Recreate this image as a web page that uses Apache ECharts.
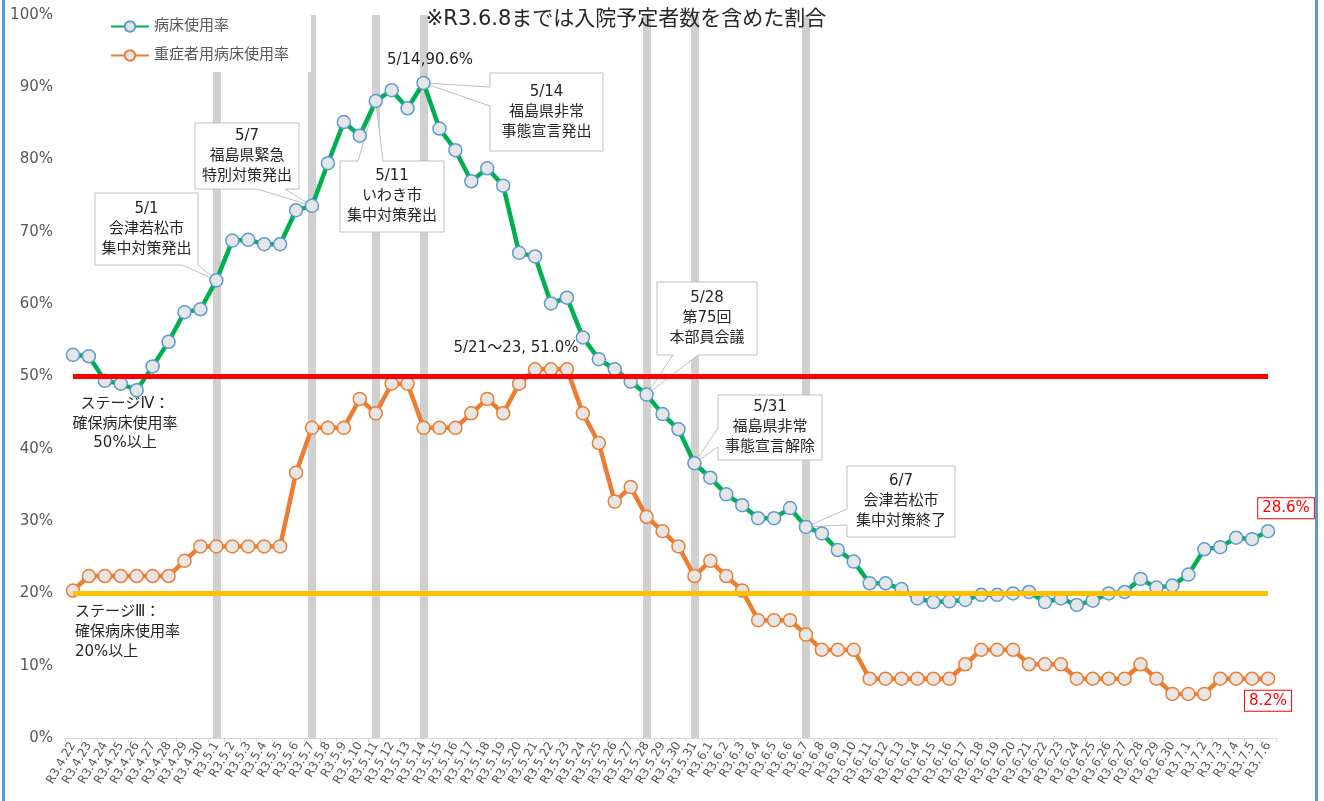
<!DOCTYPE html>
<html>
<head>
<meta charset="utf-8">
<script src="https://cdn.jsdelivr.net/npm/echarts@6/dist/echarts.min.js"></script>
<style>
html,body{margin:0;padding:0;background:#fff;}
#chart{width:1324px;height:801px;}
</style>
</head>
<body>
<div id="chart"></div>
<script>
// 日付（x軸）
var dates = [
  'R3.4.22','R3.4.23','R3.4.24','R3.4.25','R3.4.26','R3.4.27','R3.4.28','R3.4.29','R3.4.30',
  'R3.5.1','R3.5.2','R3.5.3','R3.5.4','R3.5.5','R3.5.6','R3.5.7','R3.5.8','R3.5.9','R3.5.10',
  'R3.5.11','R3.5.12','R3.5.13','R3.5.14','R3.5.15','R3.5.16','R3.5.17','R3.5.18','R3.5.19','R3.5.20',
  'R3.5.21','R3.5.22','R3.5.23','R3.5.24','R3.5.25','R3.5.26','R3.5.27','R3.5.28','R3.5.29','R3.5.30','R3.5.31',
  'R3.6.1','R3.6.2','R3.6.3','R3.6.4','R3.6.5','R3.6.6','R3.6.7','R3.6.8','R3.6.9','R3.6.10',
  'R3.6.11','R3.6.12','R3.6.13','R3.6.14','R3.6.15','R3.6.16','R3.6.17','R3.6.18','R3.6.19','R3.6.20',
  'R3.6.21','R3.6.22','R3.6.23','R3.6.24','R3.6.25','R3.6.26','R3.6.27','R3.6.28','R3.6.29','R3.6.30',
  'R3.7.1','R3.7.2','R3.7.3','R3.7.4','R3.7.5','R3.7.6'
];
// 病床使用率 (%)
var bedRate = [
  53.0, 52.8, 49.4, 49.0, 48.1, 51.4, 54.8, 58.9, 59.3,
  63.3, 68.8, 68.9, 68.3, 68.3, 73.0, 73.6, 79.5, 85.2, 83.3,
  88.1, 89.6, 87.1, 90.6, 84.3, 81.3, 77.0, 78.8, 76.4, 67.1,
  66.6, 60.1, 60.9, 55.4, 52.4, 51.0, 49.3, 47.5, 44.8, 42.7, 38.0,
  36.0, 33.7, 32.2, 30.4, 30.4, 31.8, 29.2, 28.3, 26.0, 24.4,
  21.4, 21.4, 20.6, 19.3, 18.8, 18.9, 19.1, 19.8, 19.8, 20.0,
  20.2, 18.8, 19.3, 18.4, 19.0, 20.0, 20.2, 22.0, 20.8, 21.1,
  22.6, 26.1, 26.4, 27.7, 27.5, 28.6
];
// 重症者用病床使用率 (%)
var severeRate = [
  20.4, 22.4, 22.4, 22.4, 22.4, 22.4, 22.4, 24.5, 26.5,
  26.5, 26.5, 26.5, 26.5, 26.5, 36.7, 42.9, 42.9, 42.9, 46.9,
  44.9, 49.0, 49.0, 42.9, 42.9, 42.9, 44.9, 46.9, 44.9, 49.0,
  51.0, 51.0, 51.0, 44.9, 40.8, 32.7, 34.7, 30.6, 28.6, 26.5, 22.4,
  24.5, 22.4, 20.4, 16.3, 16.3, 16.3, 14.3, 12.2, 12.2, 12.2,
  8.2, 8.2, 8.2, 8.2, 8.2, 8.2, 10.2, 12.2, 12.2, 12.2,
  10.2, 10.2, 10.2, 8.2, 8.2, 8.2, 8.2, 10.2, 8.2, 6.1,
  6.1, 6.1, 8.2, 8.2, 8.2, 8.2
];
// 対策の節目（縦線）
var eventDates = ['R3.5.1','R3.5.7','R3.5.11','R3.5.14','R3.5.28','R3.5.31','R3.6.7'];
// ステージ基準
var stage4 = 50;
var stage3 = 20;
var yTicks = [0,10,20,30,40,50,60,70,80,90,100];

// 吹き出し（位置はレイアウト用ピクセル）
var callouts = [
  {date:'R3.5.1',  text:['5/1','会津若松市','集中対策発出'],  box:[95,193,103,72],  side:'bottom', base:[182,198]},
  {date:'R3.5.7',  text:['5/7','福島県緊急','特別対策発出'],  box:[195,123,104,66], side:'bottom', base:[257,285]},
  {date:'R3.5.11', text:['5/11','いわき市','集中対策発出'],  box:[340,161,104,71], side:'top',    base:[358,383]},
  {date:'R3.5.14', text:['5/14','福島県非常','事態宣言発出'], box:[490,73,113,78],  side:'left',   base:[87,106]},
  {date:'R3.5.28', text:['5/28','第75回','本部員会議'],      box:[657,282,100,73], side:'bottom', base:[673,698]},
  {date:'R3.5.31', text:['5/31','福島県非常','事態宣言解除'], box:[718,395,104,65], side:'left',   base:[428,447]},
  {date:'R3.6.7',  text:['6/7','会津若松市','集中対策終了'],  box:[847,466,108,71], side:'left',   base:[509,525]}
];

var FONT = '"DejaVu Sans", "Noto Sans CJK JP", sans-serif';
var last = dates.length - 1;

var chart = echarts.init(document.getElementById('chart'));
var option = {
  animation: false,
  backgroundColor: '#fff',
  textStyle: { fontFamily: FONT },
  legend: {
    data: ['病床使用率', '重症者用病床使用率'],
    orient: 'vertical',
    left: 100,
    top: 10,
    z: 6,
    itemWidth: 38,
    itemHeight: 13,
    itemGap: 14,
    padding: [9, 22, 9, 10],
    backgroundColor: '#fff',
    textStyle: { fontSize: 15, color: '#595959', fontFamily: FONT }
  },
  grid: { left: 65, right: 48, top: 15, bottom: 63 },
  xAxis: {
    type: 'category',
    data: dates,
    boundaryGap: true,
    axisLine: { lineStyle: { color: '#d9d9d9', width: 1 } },
    axisTick: { show: true, interval: 0, length: 4, lineStyle: { color: '#d9d9d9' } },
    axisLabel: { interval: 0, rotate: 60, fontSize: 12, color: '#595959', margin: 5, fontFamily: FONT }
  },
  yAxis: {
    type: 'value',
    min: yTicks[0],
    max: yTicks[yTicks.length - 1],
    interval: 10,
    splitLine: { show: false },
    axisLine: { show: false },
    axisTick: { show: false },
    axisLabel: { formatter: '{value}%', fontSize: 15, color: '#595959', margin: 12, fontFamily: FONT }
  },
  series: [
    {
      name: 'events',
      type: 'line',
      data: [],
      z: 0,
      silent: true,
      markLine: {
        z: 0,
        silent: true,
        symbol: ['none', 'none'],
        label: { show: false },
        lineStyle: { color: '#d0d0d0', width: 8, type: 'solid' },
        data: eventDates.map(function (d) { return { xAxis: d }; })
      }
    },
    {
      name: '病床使用率',
      type: 'line',
      data: bedRate,
      z: 2,
      symbol: 'circle',
      symbolSize: 13,
      lineStyle: { color: '#00b050', width: 4.5 },
      itemStyle: { color: '#e6e6e6', borderColor: '#5b9bd5', borderWidth: 1.5 }
    },
    {
      name: '重症者用病床使用率',
      type: 'line',
      data: severeRate,
      z: 2,
      symbol: 'circle',
      symbolSize: 13,
      lineStyle: { color: '#ed7d31', width: 4.5 },
      itemStyle: { color: '#e6e6e6', borderColor: '#ed7d31', borderWidth: 1.5 }
    },
    {
      name: 'stages',
      type: 'line',
      data: [],
      z: 3,
      silent: true,
      markLine: {
        z: 3,
        silent: true,
        symbol: ['none', 'none'],
        label: { show: false },
        lineStyle: { type: 'solid', width: 5 },
        data: [
          [{ coord: [dates[0], stage4], lineStyle: { color: '#ff0000', width: 5, type: 'solid' } }, { coord: [dates[last], stage4] }],
          [{ coord: [dates[0], stage3], lineStyle: { color: '#ffc000', width: 5, type: 'solid' } }, { coord: [dates[last], stage3] }]
        ]
      }
    }
  ]
};
chart.setOption(option);

function px(i, v) {
  return chart.convertToPixel({ xAxisIndex: 0, yAxisIndex: 0 }, [i, v]);
}

var g = [];
// 吹き出し
callouts.forEach(function (c) {
  var i = dates.indexOf(c.date);
  var tip = px(i, bedRate[i]);
  var x0 = c.box[0], y0 = c.box[1], x1 = x0 + c.box[2], y1 = y0 + c.box[3];
  var pts;
  if (c.side === 'bottom') {
    pts = [[x0,y0],[x1,y0],[x1,y1],[c.base[1],y1],tip,[c.base[0],y1],[x0,y1]];
  } else if (c.side === 'top') {
    pts = [[x0,y0],[c.base[0],y0],tip,[c.base[1],y0],[x1,y0],[x1,y1],[x0,y1]];
  } else {
    pts = [[x0,y0],[x1,y0],[x1,y1],[x0,y1],[x0,c.base[1]],tip,[x0,c.base[0]]];
  }
  g.push({
    type: 'polygon', z: 1, silent: true,
    shape: { points: pts },
    style: { fill: '#fff', stroke: '#bfbfbf', lineWidth: 1 }
  });
  g.push({
    type: 'text', z: 1, silent: true,
    x: (x0 + x1) / 2, y: (y0 + y1) / 2,
    style: {
      text: c.text.join('\n'), fill: '#262626', font: '15px ' + FONT,
      align: 'center', verticalAlign: 'middle', lineHeight: 20
    }
  });
});

// 注記テキスト
function txt(s, x, y, opt) {
  opt = opt || {};
  g.push({
    type: 'text', z: 5, silent: true, x: x, y: y,
    style: {
      text: s, fill: opt.fill || '#262626', font: (opt.size || 15) + 'px ' + FONT,
      align: opt.align || 'center', verticalAlign: 'middle', lineHeight: opt.lh || 20
    }
  });
}
txt('※R3.6.8までは入院予定者数を含めた割合', 626, 20, { size: 21 });
txt('5/14,90.6%', 430, 60);
txt('5/21～23, 51.0%', 516, 348);
txt('ステージⅣ：\n確保病床使用率\n50%以上', 125, 424, { lh: 19.5 });
txt('ステージⅢ：\n確保病床使用率\n20%以上', 75, 632, { align: 'left' });

// 最新値ラベル
var pB = px(last, bedRate[last]);
var pS = px(last, severeRate[last]);
[[bedRate[last], pB[0] + 18, pB[1] - 23], [severeRate[last], pS[0], pS[1] + 22]].forEach(function (a) {
  g.push({
    type: 'text', z: 5, silent: true, x: a[1], y: a[2],
    style: {
      text: a[0].toFixed(1) + '%', fill: '#ff0000', font: '15px ' + FONT,
      align: 'center', verticalAlign: 'middle',
      backgroundColor: '#fff', borderColor: '#ff0000', borderWidth: 1,
      padding: [3, 4, 2, 4]
    }
  });
});

// 枠線（左右）
g.push({ type: 'rect', z: 5, silent: true, shape: { x: 2, y: 0, width: 3, height: 801 }, style: { fill: '#5b9bd5' } });
g.push({ type: 'rect', z: 5, silent: true, shape: { x: 1315, y: 0, width: 3, height: 801 }, style: { fill: '#5b9bd5' } });

chart.setOption({ graphic: g });
</script>
</body>
</html>
